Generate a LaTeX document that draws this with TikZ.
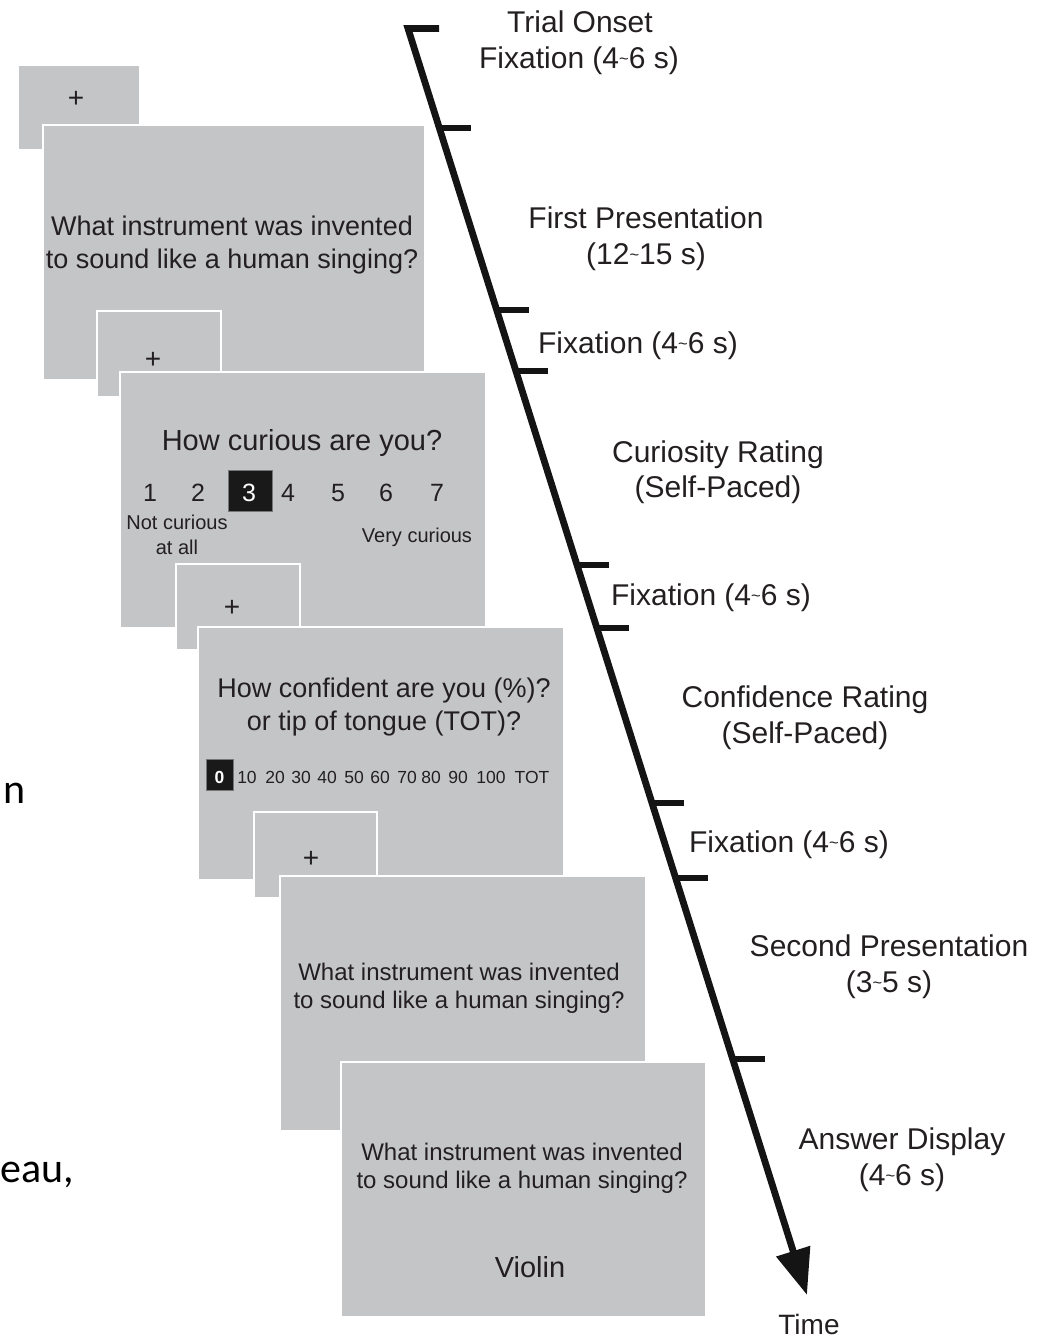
\documentclass[tikz,border=0pt]{standalone}
\usepackage{fontspec}
\setmainfont{Liberation Sans}
\newfontfamily\slidefont{Carlito}
\usepackage{graphicx}
\usetikzlibrary{arrows.meta,calc}
\definecolor{scr}{RGB}{196,197,199}
\definecolor{ink}{RGB}{35,31,32}
\newcommand{\tld}{\raisebox{0.12em}{\scalebox{0.55}{\textasciitilde}}}
\newcommand{\fs}[1]{\fontsize{#1}{#1}\selectfont}
\begin{document}
\begin{tikzpicture}[x=1pt,y=-1pt,
  screen/.style={fill=scr,draw=white,line width=2pt},
  txt/.style={text=ink,inner sep=0pt,anchor=base},
  plus/.style={text=ink,inner sep=0pt,anchor=center,font=\fs{28}},
  lab/.style={txt,font=\fs{30}},
  big/.style={txt,font=\fs{27}},
  mid/.style={txt,font=\fs{24}},
  small/.style={txt,font=\fs{20}},
  tiny/.style={txt,font=\fs{17.5}},
  num/.style={txt,font=\fs{25}},
  selbox/.style={fill=black!90,draw=scr!60!black,line width=0.6pt},
  axis/.style={line width=6.8pt,line join=miter,draw=black!92},
  tickmark/.style={line width=6.5pt,draw=black!92},
  frag/.style={inner sep=0pt,anchor=base west,font=\slidefont\fs{42},text=black}]
\useasboundingbox (0,0) rectangle (1044,1339);

% stray slide text fragments
\node[frag] (frag1) at (3,803) {n};
\node[frag] (frag2) at (0,1182) {eau,};

% screen 1: fixation
\path[screen] (18,65) rectangle (140,150);
\node[plus] (p1) at (76,99) {+};
% screen 2: first presentation
\path[screen] (43,125) rectangle (425,380);
\node[big] (q1a) at (232,235) {What instrument was invented};
\node[big] (q1b) at (232,268) {to sound like a human singing?};
% screen 3: fixation
\path[screen] (97,311) rectangle (221,397);
\node[plus] (p2) at (153,360) {+};
% screen 4: curiosity rating
\path[screen] (120,372) rectangle (486,628);
\node[txt,font=\fs{29}] (cq) at (302,450) {How curious are you?};
\path[selbox] (228,470) rectangle (272,511);
\foreach \xx/\nn in {150/1,198/2,288/4,338/5,386/6,437/7}
  \node[num] (c\nn) at (\xx,501) {\nn};
\node[num,text=white] (c3) at (249,501) {3};
\node[small] (nc1) at (177,529) {Not curious};
\node[small] (nc2) at (177,554) {at all};
\node[small] (vc) at (417,542) {Very curious};
% screen 5: fixation
\path[screen] (176,564) rectangle (300,650);
\node[plus] (p3) at (232,608) {+};
% screen 6: confidence rating
\path[screen] (198,627) rectangle (564,880);
\node[big] (fq1) at (384,697) {How confident are you (\%)?};
\node[big] (fq2) at (384,730) {or tip of tongue (TOT)?};
\path[selbox] (206,759) rectangle (233,790);
\node[tiny,text=white,font=\bfseries\fs{17.5}] (f0) at (219.5,783) {0};
\foreach \xx/\nn [count=\i] in {247/10,275/20,301/30,327/40,354/50,380/60,407/70,431/80,458/90,491/100,532/TOT}
  \node[tiny] (f\i) at (\xx,783) {\nn};
% screen 7: fixation
\path[screen] (254,812) rectangle (377,898);
\node[plus] (p4) at (311,859) {+};
% screen 8: second presentation
\path[screen] (280,876) rectangle (646,1131);
\node[mid] (q2a) at (459,980) {What instrument was invented};
\node[mid] (q2b) at (459,1008) {to sound like a human singing?};
% screen 9: answer display
\path[screen] (341,1062) rectangle (706,1317);
\node[mid] (q3a) at (522,1160) {What instrument was invented};
\node[mid] (q3b) at (522,1188) {to sound like a human singing?};
\node[txt,font=\fs{29}] (ans) at (530,1277) {Violin};

% time axis
\coordinate (top) at (408,28.5);
\coordinate (tip) at (807,1295);
\draw[axis,-{Triangle[length=46pt,width=34pt]}] ($(top)+(31,0)$) -- (top) -- (tip);
\foreach \yy in {128,310,371,565,628,803,878,1059}
  \draw[tickmark] ($(top)!{(\yy-28.5)/1266.5}!(tip)$) -- ++(32,0);

% phase labels
\node[lab] (l1a) at (580,32) {Trial Onset};
\node[lab] (l1b) at (579,68) {Fixation (4\tld6 s)};
\node[lab] (l2a) at (646,228) {First Presentation};
\node[lab] (l2b) at (646,264) {(12\tld15 s)};
\node[lab] (l3) at (638,353) {Fixation (4\tld6 s)};
\node[lab] (l4a) at (718,462) {Curiosity Rating};
\node[lab] (l4b) at (718,497) {(Self-Paced)};
\node[lab] (l5) at (711,605) {Fixation (4\tld6 s)};
\node[lab] (l6a) at (805,707) {Confidence Rating};
\node[lab] (l6b) at (805,743) {(Self-Paced)};
\node[lab] (l7) at (789,852) {Fixation (4\tld6 s)};
\node[lab] (l8a) at (889,956) {Second Presentation};
\node[lab] (l8b) at (889,992) {(3\tld5 s)};
\node[lab] (l9a) at (902,1149) {Answer Display};
\node[lab] (l9b) at (902,1185) {(4\tld6 s)};
\node[lab,font=\fs{28}] (time) at (809,1334) {Time};
\end{tikzpicture}
\end{document}
